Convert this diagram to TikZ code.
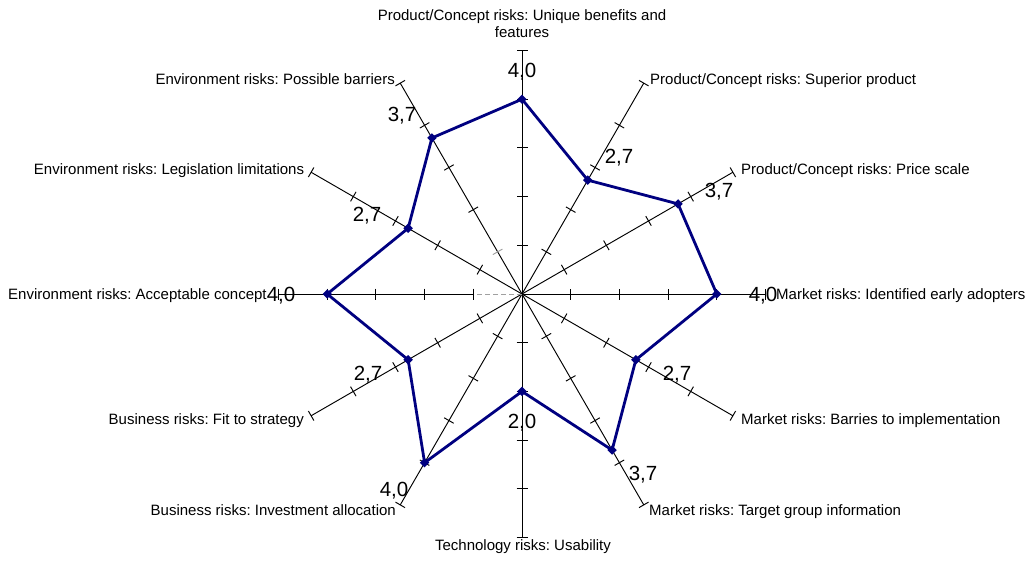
\documentclass[tikz,border=0pt]{standalone}
\usepackage{fontspec}
\setmainfont{Liberation Sans}
\usetikzlibrary{calc,shapes.geometric}
\definecolor{series}{RGB}{0,0,128}
\definecolor{faint}{RGB}{160,160,160}
\frenchspacing

\begin{document}
\begin{tikzpicture}[x=1pt,y=-1pt,
  axisline/.style={black,line width=0.95pt},
  tickmark/.style={black,line width=0.95pt},
  serieslink/.style={series,line width=2.8pt,line join=round},
  marker/.style={diamond,aspect=1,fill=series,draw=none,inner sep=0pt,minimum size=9.5pt},
  catlabel/.style={font=\fontsize{15}{17}\selectfont,inner sep=0pt},
  vallabel/.style={font=\fontsize{20.5}{24}\selectfont,inner sep=0pt,anchor=base},
]
\useasboundingbox (0,0) rectangle (1031,566);
\def\unit{48.7}
\coordinate (O) at (522,294);

% twelve axes, clockwise from the top, with their end points and data points
\foreach \k/\v in {0/4.0,1/2.7,2/3.7,3/4.0,4/2.7,5/3.7,6/2.0,7/4.0,8/2.7,9/4.0,10/2.7,11/3.7}{
  \pgfmathsetmacro\a{30*\k-90}
  \coordinate (end\k) at ($(O)+(\a:5*\unit)$);
  \coordinate (first\k) at ($(O)+(\a:\unit)$);
  \coordinate (pt\k) at ($(O)+(\a:\v*\unit)$);
}

% axis lines
\foreach \k in {0,1,2,3,4,5,6,7,8,10,11}{
  \draw[axisline] (O) -- (end\k);
}
\draw[axisline] (first9) -- (end9);
\draw[faint,line width=0.95pt,dash pattern=on 5pt off 3pt] (O) -- (first9);

% tick marks across every axis
\foreach \k in {0,...,11}{
  \pgfmathsetmacro\a{30*\k-90}
  \foreach \j in {1,...,5}{
    \pgfmathsetmacro\tc{(\k==11 && \j==1) ? 1 : 0}
    \ifdim\tc pt>0.5pt
      \draw[faint,line width=0.95pt] ($(O)+(\a:\j*\unit)+(\a+90:5.5)$) -- ($(O)+(\a:\j*\unit)+(\a-90:5.5)$);
    \else
      \draw[tickmark] ($(O)+(\a:\j*\unit)+(\a+90:5.5)$) -- ($(O)+(\a:\j*\unit)+(\a-90:5.5)$);
    \fi
  }
}

% data series
\draw[serieslink] (pt0) \foreach \k in {1,...,11}{ -- (pt\k)} -- cycle;
\foreach \k in {0,...,11}{
  \node[marker] (m\k) at (pt\k) {};
}

% category labels
\node[catlabel,align=center] (c0) at (522,23.5) {Product/Concept risks: Unique benefits and\\features};
\node[catlabel,anchor=base west] (c1) at (650,84.3) {Product/Concept risks: Superior product};
\node[catlabel,anchor=base west] (c2) at (741,174) {Product/Concept risks: Price scale};
\node[catlabel,anchor=base west] (c3) at (776,299.3) {Market risks: Identified early adopters};
\node[catlabel,anchor=base west] (c4) at (741,424) {Market risks: Barries to implementation};
\node[catlabel,anchor=base west] (c5) at (649,515) {Market risks: Target group information};
\node[catlabel,anchor=base] (c6) at (523,550) {Technology risks: Usability};
\node[catlabel,anchor=base east] (c7) at (396,515) {Business risks: Investment allocation};
\node[catlabel,anchor=base east] (c8) at (304,424) {Business risks: Fit to strategy};
\node[catlabel,anchor=base west] (c9) at (8,299.3) {Environment risks: Acceptable concept};
\node[catlabel,anchor=base east] (c10) at (304.3,174) {Environment risks: Legislation limitations};
\node[catlabel,anchor=base east] (c11) at (395,84.3) {Environment risks: Possible barriers};

% value labels
\node[vallabel] (v0) at (522,77.3) {4,0};
\node[vallabel] (v1) at (619,163.3) {2,7};
\node[vallabel] (v2) at (719,197.3) {3,7};
\node[vallabel] (v3) at (763,301.7) {4,0};
\node[vallabel] (v4) at (677,380.7) {2,7};
\node[vallabel] (v5) at (643,480) {3,7};
\node[vallabel] (v6) at (522,428) {2,0};
\node[vallabel] (v7) at (394,496) {4,0};
\node[vallabel] (v8) at (368,380.7) {2,7};
\node[vallabel] (v9) at (281,301.7) {4,0};
\node[vallabel] (v10) at (367,221) {2,7};
\node[vallabel] (v11) at (402,121) {3,7};
\end{tikzpicture}
\end{document}
